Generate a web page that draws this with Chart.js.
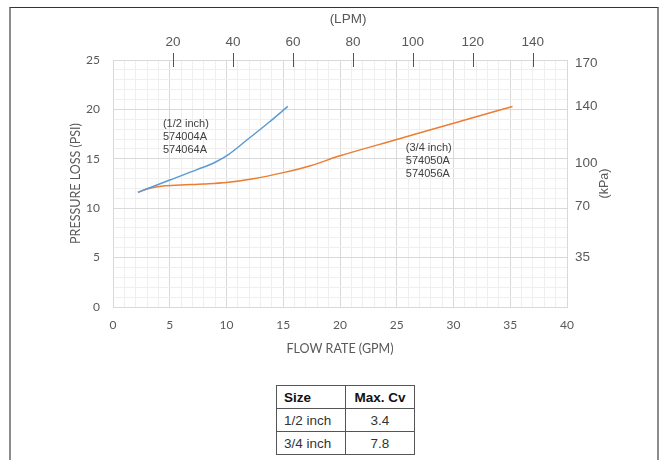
<!DOCTYPE html>
<html>
<head>
<meta charset="utf-8">
<script src="https://cdn.jsdelivr.net/npm/chart.js@4.4.0/dist/chart.umd.min.js"></script>
<style>
  body { margin: 0; background: #fff; }
  #wrap { position: relative; width: 660px; height: 460px; overflow: hidden; }
  #frame { position: absolute; left: 9px; top: 7px; width: 650px; height: 480px; box-sizing: border-box;
           border-top: 1.5px solid #333; border-left: 2px solid #8c8c8c; border-right: 2px solid #8c8c8c; }
  canvas { position: absolute; left: 0; top: 0; }
  #cvTable { position: absolute; left: 276px; top: 385px; border-collapse: collapse;
             font-family: "Liberation Sans", Arial, sans-serif; font-size: 13.5px; color: #333; }
  #cvTable td { border: 1.5px solid #555; height: 22px; padding: 0 7px; }
  #cvTable td.num { text-align: center; }
  #cvTable tr.head td { font-weight: bold; color: #111; }
</style>
</head>
<body>
<div id="wrap">
  <div id="frame"></div>
  <canvas id="lossChart" width="660" height="370"></canvas>
  <table id="cvTable"></table>
</div>
<script>
// courbes (GPM -> PSI)
const halfInchGpm = [2.2, 5, 7.4, 9, 10.2, 11.8, 13.8, 15.4];
const halfInchPsi = [11.6, 12.85, 13.9, 14.65, 15.45, 16.9, 18.75, 20.3];
const threeQuarterGpm = [2.2, 3, 4.4, 6, 8, 10, 12.5, 15, 17.4, 20, 25, 30, 35.2];
const threeQuarterPsi = [11.6, 11.95, 12.25, 12.35, 12.45, 12.6, 13.0, 13.6, 14.3, 15.3, 16.95, 18.6, 20.3];

const lpmTicks = [20, 40, 60, 80, 100, 120, 140];
const kpaTicks = [35, 70, 100, 140, 170];

const halfInchNote = ["(1/2 inch)", "574004A", "574064A"];
const threeQuarterNote = ["(3/4 inch)", "574050A", "574056A"];
const noteAnchors = [[4.4, 18.5], [25.8, 16.05]]; // GPM, PSI

const tableHead = ["Size", "Max. Cv"];
const tableSizes = ["1/2 inch", "3/4 inch"];
const tableCv = ["3.4", "7.8"];

const LPM_PER_GPM = 3.785;
const KPA_PER_PSI = 6.895;

// tableau
const tbl = document.getElementById("cvTable");
tbl.innerHTML = `<tr class="head"><td style="width:54px">${tableHead[0]}</td><td class="num" style="width:54px">${tableHead[1]}</td></tr>` +
  tableSizes.map((s, i) => `<tr><td>${s}</td><td class="num">${tableCv[i]}</td></tr>`).join("");

const gray = "#595959";
const gridColor = ctx => (ctx.tick && ctx.tick.value % 5 === 0) ? "#d9d9d9" : "#efefef";
const every5 = v => (v % 5 === 0 ? v : "");

const extras = {
  id: "extras",
  afterDraw(chart) {
    const ctx = chart.ctx;
    const area = chart.chartArea;
    const top = chart.scales.xTop;
    const x = chart.scales.x, y = chart.scales.y;
    ctx.save();
    // petites graduations LPM
    ctx.strokeStyle = "#555";
    ctx.lineWidth = 1;
    lpmTicks.forEach(v => {
      const px = Math.round(top.getPixelForValue(v)) + 0.5;
      ctx.beginPath();
      ctx.moveTo(px, area.top - 7);
      ctx.lineTo(px, area.top + 7);
      ctx.stroke();
    });
    // annotations
    ctx.fillStyle = "#404040";
    ctx.font = "11px 'Liberation Sans', Arial, sans-serif";
    ctx.textBaseline = "middle";
    [halfInchNote, threeQuarterNote].forEach((lines, k) => {
      const px = x.getPixelForValue(noteAnchors[k][0]);
      const py = y.getPixelForValue(noteAnchors[k][1]);
      lines.forEach((t, i) => ctx.fillText(t, px, py + i * 13));
    });
    // titres
    ctx.fillStyle = gray;
    ctx.font = "13.5px 'Liberation Sans', Arial, sans-serif";
    ctx.textAlign = "center";
    ctx.fillText("(LPM)", (area.left + area.right) / 2 + 8, 19);
    ctx.translate(area.right + 38, (area.top + area.bottom) / 2);
    ctx.rotate(-Math.PI / 2);
    ctx.font = "12.5px 'Liberation Sans', Arial, sans-serif";
    ctx.fillText("(kPa)", 0, 0);
    ctx.restore();
  }
};

new Chart(document.getElementById("lossChart"), {
  type: "scatter",
  data: {
    datasets: [
      {
        label: "1/2 inch",
        data: halfInchGpm.map((g, i) => ({ x: g, y: halfInchPsi[i] })),
        borderColor: "#5B9BD5",
        borderWidth: 1.5
      },
      {
        label: "3/4 inch",
        data: threeQuarterGpm.map((g, i) => ({ x: g, y: threeQuarterPsi[i] })),
        borderColor: "#ED7D31",
        borderWidth: 1.5
      }
    ].map(d => Object.assign(d, { showLine: true, pointRadius: 0, tension: 0.4, cubicInterpolationMode: "monotone", xAxisID: "x", yAxisID: "y" }))
  },
  options: {
    responsive: false,
    animation: false,
    layout: { padding: 0 },
    plugins: { legend: { display: false }, tooltip: { enabled: false } },
    scales: {
      x: {
        type: "linear", position: "bottom", min: 0, max: 40,
        ticks: { stepSize: 1, autoSkip: false, maxRotation: 0, padding: 11, color: gray,
                 font: { family: "Lato", size: 12 }, callback: every5 },
        grid: { color: gridColor, drawTicks: false },
        border: { color: "#d9d9d9" },
        title: { display: true, text: "FLOW RATE (GPM)", color: gray,
                 font: { family: "Lato", size: 12.5 }, padding: { top: 14, bottom: 14 } },
        afterFit: s => { s.height = 63; }
      },
      y: {
        type: "linear", position: "left", min: 0, max: 25,
        ticks: { stepSize: 1, autoSkip: false, padding: 13, color: gray,
                 font: { family: "Lato", size: 12 }, callback: every5 },
        grid: { color: gridColor, drawTicks: false },
        border: { color: "#d9d9d9" },
        title: { display: true, text: "PRESSURE LOSS (PSI)", color: gray,
                 font: { family: "Lato", size: 12.5 }, padding: { top: 68, bottom: 0 } },
        afterFit: s => { s.width = 113; }
      },
      xTop: {
        type: "linear", position: "top", min: 0, max: 40 * LPM_PER_GPM,
        afterBuildTicks: s => { s.ticks = lpmTicks.map(v => ({ value: v })); },
        ticks: { autoSkip: false, maxRotation: 0, padding: 2, color: gray,
                 font: { family: "Liberation Sans", size: 13.5 } },
        grid: { display: false },
        border: { display: false },
        afterFit: s => { s.height = 60; }
      },
      yKpa: {
        type: "linear", position: "right", min: 0, max: 25 * KPA_PER_PSI,
        afterBuildTicks: s => { s.ticks = kpaTicks.map(v => ({ value: v })); },
        ticks: { autoSkip: false, padding: 0, color: gray,
                 font: { family: "Liberation Sans", size: 13.5 } },
        grid: { display: false },
        border: { display: false },
        afterFit: s => { s.width = 93; }
      }
    }
  },
  plugins: [extras]
});
</script>
</body>
</html>
